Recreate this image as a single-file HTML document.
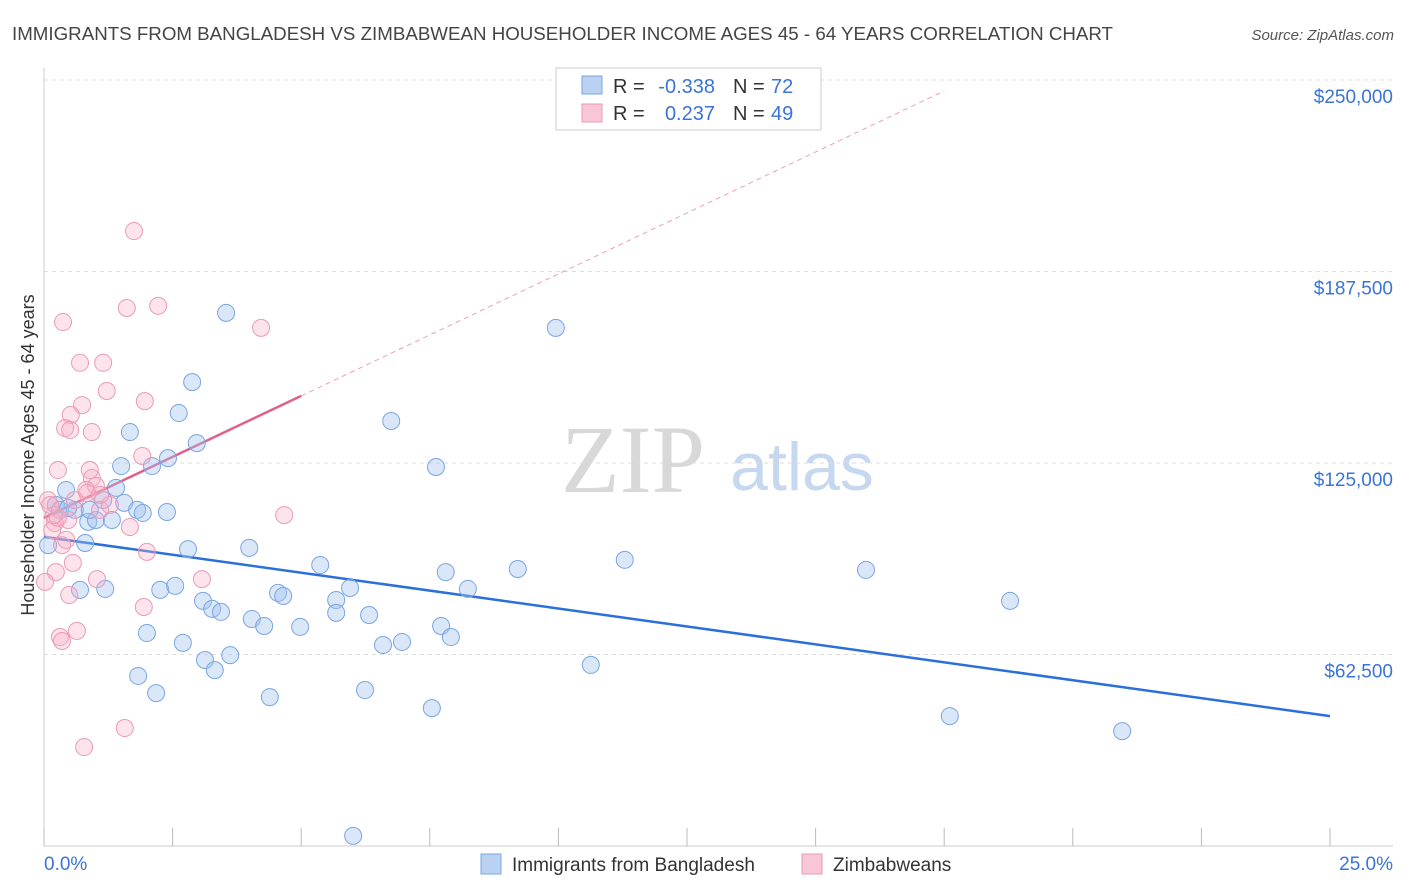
<!DOCTYPE html>
<html><head><meta charset="utf-8">
<style>
body{margin:0;background:#fff;font-family:"Liberation Sans",sans-serif;}
svg{display:block}
</style></head>
<body>
<svg id="chart" width="1406" height="892">
<text x="12" y="40" font-size="18" fill="#444" textLength="1101" lengthAdjust="spacingAndGlyphs">IMMIGRANTS FROM BANGLADESH VS ZIMBABWEAN HOUSEHOLDER INCOME AGES 45 - 64 YEARS CORRELATION CHART</text>
<text x="1394" y="40" font-size="15" fill="#555" font-style="italic" text-anchor="end">Source: ZipAtlas.com</text>
<text x="633" y="492" font-size="96" fill="#d8d8d8" font-family="Liberation Serif,serif" text-anchor="middle">ZIP</text>
<text x="802" y="490" font-size="68" fill="#c5d8f0" text-anchor="middle">atlas</text>
<text transform="translate(34,455) rotate(-90)" font-size="18" fill="#333" text-anchor="middle">Householder Income Ages 45 - 64 years</text>
<g id="grid"></g><g id="axes"></g><g id="lines"></g><g id="pts"></g>
<g>
<rect x="556" y="68" width="265" height="62" fill="#fff" stroke="#ccc"/>
<rect x="582" y="76" width="20" height="18" fill="#b9d2f3" stroke="#7aa5e2"/>
<rect x="582" y="104" width="20" height="18" fill="#f8c6d6" stroke="#ea97b2"/>
<text x="613" y="93" font-size="20" fill="#333">R =</text>
<text x="715" y="93" font-size="20" fill="#3a74d6" text-anchor="end">-0.338</text>
<text x="733" y="93" font-size="20" fill="#333">N =</text>
<text x="771" y="93" font-size="20" fill="#3a74d6">72</text>
<text x="613" y="120" font-size="20" fill="#333">R =</text>
<text x="715" y="120" font-size="20" fill="#3a74d6" text-anchor="end">0.237</text>
<text x="733" y="120" font-size="20" fill="#333">N =</text>
<text x="771" y="120" font-size="20" fill="#3a74d6">49</text>
</g>
<g>
<rect x="481" y="854" width="20" height="20" fill="#b9d2f3" stroke="#7aa5e2"/>
<text x="512" y="871" font-size="19" fill="#333">Immigrants from Bangladesh</text>
<rect x="802" y="854" width="20" height="20" fill="#f8c6d6" stroke="#ea97b2"/>
<text x="833" y="871" font-size="19" fill="#333">Zimbabweans</text>
</g>
</svg>
<script>
const yTicks=[62500,125000,187500,250000];
const yTickLabels=["$62,500","$125,000","$187,500","$250,000"];
const blueX=[.23,.43,.31,.60,.47,.80,.86,1.01,.89,.70,1.19,1.32,1.40,1.15,1.56,1.67,1.50,1.81,1.92,2.10,2.39,2.41,2.62,2.88,2.97,3.54,2.80,2.26,2.55,2.00,1.83,2.18,2.70,3.09,3.27,3.44,3.13,3.32,3.62,3.99,4.04,4.28,4.39,4.55,4.65,4.98,5.37,5.68,5.68,5.95,6.32,6.24,6.59,6.96,6.75,6.01,7.62,7.54,7.72,7.91,7.81,8.24,9.21,9.95,10.63,11.29,15.98,17.61,18.78,20.96,.08];
const blueY=[111.3,116.2,109.7,109.7,110.3,98.9,105.8,106.4,109.7,83.6,83.9,106.4,116.9,112.9,112.0,135.1,124.0,109.7,108.7,124.0,109.0,126.6,141.3,151.4,131.5,174.0,96.9,83.6,84.9,69.5,55.5,49.9,66.3,80.0,77.4,76.4,60.7,57.4,62.3,97.3,74.1,71.8,48.6,82.6,81.6,71.5,91.7,80.3,76.1,84.2,75.4,50.9,65.6,66.6,138.7,3.3,123.7,45.0,71.8,68.2,89.4,83.9,90.4,169.1,59.1,93.4,90.1,42.4,80.0,37.5,98.2];
const pinkX=[1.75,.37,1.61,2.22,4.22,.70,1.15,1.22,.74,.52,1.96,.41,.51,.93,.27,1.91,.93,1.01,.84,1.09,.47,.21,.16,.35,.08,1.67,2.00,4.67,.56,.23,.02,1.03,3.07,.49,1.94,.64,.31,.35,1.57,.78,.27,.19,.43,.82,1.28,.89,1.09,.12,.60];
const pinkY=[200.7,171.0,175.6,176.3,169.1,157.7,157.7,148.5,143.9,140.7,145.2,136.4,135.8,135.1,122.7,127.3,120.1,117.5,115.2,109.7,106.4,105.4,103.1,98.2,112.9,104.1,96.0,108.0,92.4,89.4,86.2,87.1,87.1,81.9,78.0,70.2,68.2,66.9,38.5,32.3,107.1,108.0,99.9,116.2,111.3,122.7,114.6,111.3,112.9];
const blueTrend=[100.9,42.4];
const pinkTrend=[107.1,7.96];
const NS="http://www.w3.org/2000/svg";
const X=v=>44+v/25*1286;
const Y=v=>846-v*1000/62500*191.5;
function mk(tag,attrs,parent){const e=document.createElementNS(NS,tag);for(const k in attrs)e.setAttribute(k,attrs[k]);document.getElementById(parent).appendChild(e);return e;}
yTicks.forEach((t,i)=>{
 const l=mk('line',{x1:44,x2:1393,y1:Y(t/1000),y2:Y(t/1000),stroke:'#ddd','stroke-dasharray':'4,4'},'grid');
 
 
 const tx=mk('text',{x:1393,y:Y(t/1000)+23,'font-size':19,fill:'#3a74d6','text-anchor':'end'},'axes');
 tx.textContent=yTickLabels[i];
 
 
});
mk('line',{x1:44,x2:44,y1:68,y2:846,stroke:'#ccc'},'axes');
mk('line',{x1:44,x2:1393,y1:846,y2:846,stroke:'#ccc'},'axes');
for(let i=0;i<=10;i++){const t=mk('line',{x1:X(i*2.5),x2:X(i*2.5),y1:828,y2:846,stroke:'#bbb'},'axes');
 
 }
let a=mk('text',{x:44,y:870,'font-size':19,fill:'#3a74d6'},'axes');a.textContent='0.0%';


a=mk('text',{x:1393,y:870,'font-size':19,fill:'#3a74d6','text-anchor':'end'},'axes');a.textContent='25.0%';


blueX.forEach((v,i)=>{const c=mk('circle',{cx:X(v),cy:Y(blueY[i]),r:8.5,fill:'rgba(160,195,240,0.4)',stroke:'#7aa5e2','stroke-width':1},'pts');
 
 });
pinkX.forEach((v,i)=>{const c=mk('circle',{cx:X(v),cy:Y(pinkY[i]),r:8.5,fill:'rgba(246,175,200,0.35)',stroke:'#eb9ab5','stroke-width':1},'pts');
 
 });
let l=mk('line',{x1:X(0),y1:Y(blueTrend[0]),x2:X(25),y2:Y(blueTrend[1]),stroke:'#2a6fdb','stroke-width':2.5},'lines');


l=mk('line',{x1:X(0),y1:Y(pinkTrend[0]),x2:X(5),y2:Y(pinkTrend[0]+5*pinkTrend[1]),stroke:'#e0608a','stroke-width':2.5},'lines');


l=mk('line',{x1:X(5),y1:Y(pinkTrend[0]+5*pinkTrend[1]),x2:X(17.5),y2:Y(pinkTrend[0]+17.5*pinkTrend[1]),stroke:'#eaa0b8','stroke-width':1,'stroke-dasharray':'5,4'},'lines');


</script>
</body></html>
